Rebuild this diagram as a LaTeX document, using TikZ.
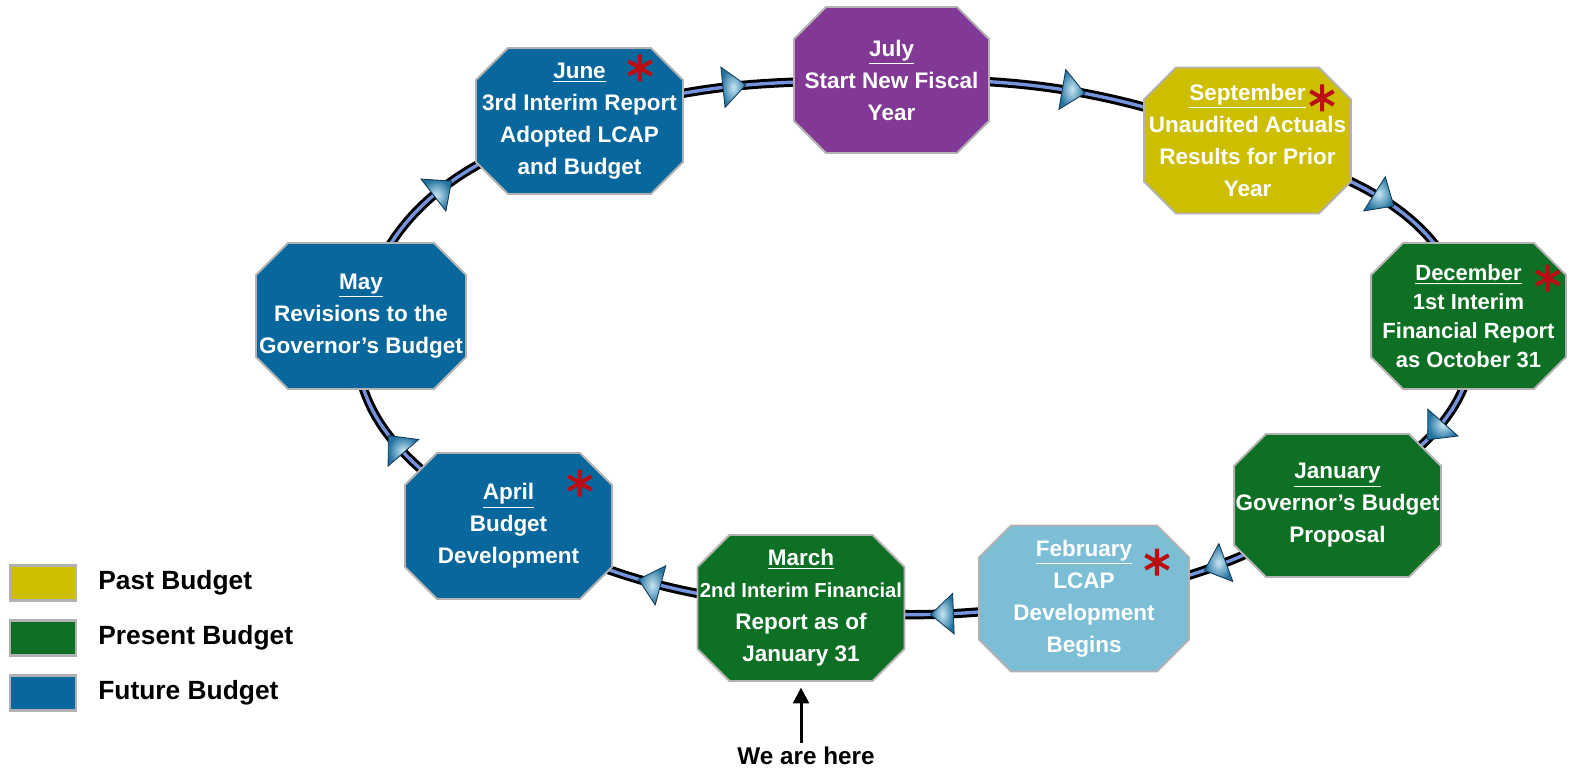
\documentclass[tikz,border=0pt]{standalone}
\usepackage{fontspec}
\setmainfont{Liberation Sans}
\usetikzlibrary{arrows.meta,decorations.markings,positioning,backgrounds}
\definecolor{Past}{RGB}{205,190,0}
\definecolor{Present}{RGB}{14,112,36}
\definecolor{Future}{RGB}{8,103,156}
\definecolor{Start}{RGB}{130,57,150}
\definecolor{Lcap}{RGB}{124,190,214}
\definecolor{Edge}{RGB}{178,178,178}
\definecolor{Ring}{RGB}{118,148,222}
\definecolor{Tip}{RGB}{35,115,160}
\definecolor{TipLight}{RGB}{200,230,242}
\definecolor{TipEdge}{RGB}{20,60,90}
\definecolor{Star}{RGB}{185,15,20}

\tikzset{
  month/.style={rectangle, minimum width=4.18cm, minimum height=2.96cm, inner sep=0pt,
    text=white, align=center, font=\fontsize{12.8}{18.2}\selectfont\bfseries,
    path picture={\draw[Edge, line width=1.1pt, fill=#1]
      ([xshift=0.66cm, yshift=-0.02cm]path picture bounding box.north west)
      -- ([xshift=-0.66cm, yshift=-0.02cm]path picture bounding box.north east)
      -- ([xshift=-0.02cm, yshift=-0.66cm]path picture bounding box.north east)
      -- ([xshift=-0.02cm, yshift=0.66cm]path picture bounding box.south east)
      -- ([xshift=-0.66cm, yshift=0.02cm]path picture bounding box.south east)
      -- ([xshift=0.66cm, yshift=0.02cm]path picture bounding box.south west)
      -- ([xshift=0.02cm, yshift=0.66cm]path picture bounding box.south west)
      -- ([xshift=0.02cm, yshift=-0.66cm]path picture bounding box.north west) -- cycle;}},
  ring/.style={preaction={draw=black, line width=1.7pt, double=Ring, double distance=1.9pt},
    postaction={decorate, decoration={markings, mark=at position 0.5 with
      {\shadedraw[draw=TipEdge, line width=0.5pt, inner color=TipLight, outer color=Tip]
        (7pt,0pt) -- (-6pt,11.5pt) -- (-6pt,-11.5pt) -- cycle;}}}},
  legbox/.style={draw=Edge, line width=1.2pt, minimum width=1.32cm, minimum height=0.7cm, inner sep=0pt},
  legtext/.style={font=\fontsize{15}{18}\selectfont\bfseries, inner sep=0pt},
  star/.pic={\draw[Star, line width=2.3pt] (90:13.5) -- (270:13.5) (30:13.5) -- (210:13.5) (150:13.5) -- (330:13.5);}
}

\begin{document}
\begin{tikzpicture}[x=0.02cm, y=0.02cm]
  \useasboundingbox (0,0) rectangle (1571,-770);

  % months round the year
  \node[month=Start, minimum width=3.94cm] (july) at (891.5,-80) {\underline{July}\\Start New Fiscal\\Year};
  \node[month=Past] (sept) at (1247.5,-140.5) {\underline{September}\\Unaudited Actuals\\Results for Prior\\Year};
  \node[month=Present, minimum width=3.94cm, font=\fontsize{12.5}{16.5}\selectfont\bfseries] (dec) at (1468.5,-316) {\underline{December}\\1st Interim\\Financial Report\\as October 31};
  \node[month=Present, minimum height=2.9cm] (jan) at (1337.5,-505.5) {\underline{January}\\Governor’s Budget\\Proposal};
  \node[month=Lcap, minimum width=4.24cm] (feb) at (1084,-598.5) {\underline{February}\\LCAP\\Development\\Begins};
  \node[month=Present] (march) at (801,-608) {\underline{March}\\{\fontsize{11.5}{18.2}\selectfont 2nd Interim Financial}\\Report as of\\January 31};
  \node[month=Future] (april) at (508.5,-526) {\underline{April}\\Budget\\Development};
  \node[month=Future, minimum width=4.24cm] (may) at (361,-316) {\underline{May}\\Revisions to the\\Governor’s Budget};
  \node[month=Future] (june) at (579.5,-121) {\underline{June}\\3rd Interim Report\\Adopted LCAP\\and Budget};

  % the ring
  \begin{pgfonlayer}{background}
    \path[ring] (july.center) to[out=1, in=160] (sept.center);
    \path[ring] (sept.center) to[out=-20, in=103] (dec.center);
    \path[ring] (dec.center) to[out=-77, in=31] (jan.center);
    \path[ring] (jan.center) to[out=211, in=9] (feb.center);
    \path[ring] (feb.center) to[out=189, in=-6] (march.center);
    \path[ring] (march.center) to[out=174, in=-27] (april.center);
    \path[ring] (april.center) to[out=153, in=257] (may.center);
    \path[ring] (may.center) to[out=77, in=199] (june.center);
    \path[ring] (june.center) to[out=19, in=181] (july.center);
  \end{pgfonlayer}

  % red marks
  \pic at (640,-68) {star};
  \pic at (1322,-98) {star};
  \pic at (1548,-278) {star};
  \pic at (580,-483) {star};
  \pic at (1157,-562) {star};

  % legend
  \node[legbox, fill=Past] (pastkey) at (43,-583) {};
  \node[legbox, fill=Present] (presentkey) at (43,-638) {};
  \node[legbox, fill=Future] (futurekey) at (43,-693) {};
  \node[legtext, right=0.42cm of pastkey] (pastlbl) {Past Budget};
  \node[legtext, right=0.42cm of presentkey] (presentlbl) {Present Budget};
  \node[legtext, right=0.42cm of futurekey] (futurelbl) {Future Budget};

  % we are here
  \node[font=\fontsize{13.8}{16}\selectfont\bfseries, inner sep=2pt] (here) at (806,-756) {We are here};
  \draw[line width=1.7pt, -{Triangle[length=9pt, width=9pt]}] (here.north -| march.south) -- ([yshift=-3pt]march.south);
\end{tikzpicture}
\end{document}
